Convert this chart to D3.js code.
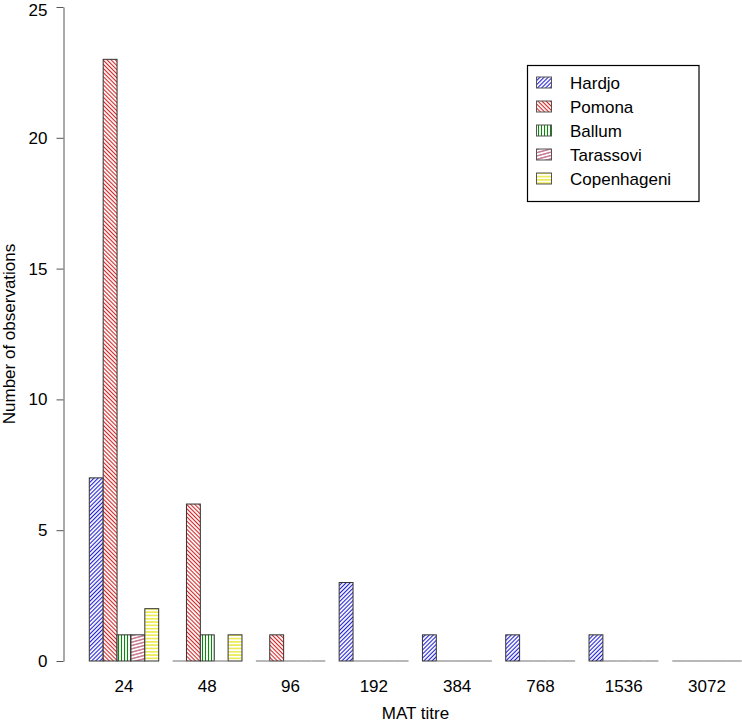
<!DOCTYPE html>
<html><head><meta charset="utf-8">
<script src="https://cdn.jsdelivr.net/npm/d3@7"></script>
<style>body{margin:0;background:#fff}svg{display:block;font-family:"Liberation Sans",Arial,sans-serif}</style>
</head><body>
<svg id="c" width="742" height="723"></svg>
<script>
const categories = ["24","48","96","192","384","768","1536","3072"];
const seriesNames = ["Hardjo","Pomona","Ballum","Tarassovi","Copenhageni"];
const hardjo      = [7,0,0,3,1,1,1,0];
const pomona      = [23,6,1,0,0,0,0,0];
const ballum      = [1,1,0,0,0,0,0,0];
const tarassovi   = [1,0,0,0,0,0,0,0];
const copenhageni = [2,1,0,0,0,0,0,0];
const yTicks = [0,5,10,15,20,25];

const seriesValues = [hardjo,pomona,ballum,tarassovi,copenhageni];
const colors = ["#1e1ed2","#d22424","#0f850f","#b04868","#e2e200"];
const angles = [45,-45,0,75,90];
const spacing = [2.9,2.9,3,3.2,3.3];

const svg = d3.select("#c");
const nS = seriesNames.length;
const x = d3.scaleLinear().domain([-0.88, 49.88]).range([63.2, 767.8]);
const y = d3.scaleLinear().domain([0,25]).range([661,7]);

const defs = svg.append("defs");
seriesNames.forEach((s,i)=>{
  const p = defs.append("pattern").attr("id","pat"+i)
    .attr("patternUnits","userSpaceOnUse")
    .attr("width",spacing[i]).attr("height",spacing[i])
    .attr("patternTransform","rotate("+angles[i]+")");
  p.append("rect").attr("width",spacing[i]).attr("height",spacing[i]).attr("fill","#fff");
  p.append("line").attr("x1",spacing[i]/2).attr("x2",spacing[i]/2)
    .attr("y1",-1).attr("y2",spacing[i]+1)
    .attr("stroke",colors[i]).attr("stroke-width",1.1);
});

const bars = [];
categories.forEach((c,g)=>{
  seriesValues.forEach((vals,s)=>{
    const u0 = 1 + g*(nS+1) + s;
    bars.push({g,s,v:vals[g],u0,u1:u0+1});
  });
});

const gBars = svg.append("g");
bars.filter(d=>d.v>0).forEach(d=>{
  gBars.append("rect")
    .attr("x",x(d.u0)).attr("width",x(d.u1)-x(d.u0))
    .attr("y",y(d.v)).attr("height",y(0)-y(d.v))
    .attr("fill","url(#pat"+d.s+")")
    .attr("stroke","#333").attr("stroke-width",1);
});
bars.filter(d=>d.v===0).forEach(d=>{
  gBars.append("line")
    .attr("x1",x(d.u0)).attr("x2",x(d.u1))
    .attr("y1",y(0)).attr("y2",y(0))
    .attr("stroke","#888").attr("stroke-width",1.2);
});

const ya = svg.append("g").attr("transform","translate(63.5,0)")
  .call(d3.axisLeft(y).tickValues(yTicks).tickSize(7).tickSizeOuter(0).tickPadding(9).tickFormat(d3.format("d")));
ya.select(".domain").attr("stroke","#555");
ya.selectAll(".tick line").attr("stroke","#555");
ya.selectAll("text").attr("font-size",17).attr("fill","#000").attr("font-family","Liberation Sans, Arial, sans-serif");
ya.selectAll(".tick").filter(d=>d===25).select("text").attr("dy","0.5em");

categories.forEach((c,g)=>{
  const uc = 1 + g*(nS+1) + nS/2;
  svg.append("text").attr("x",x(uc)).attr("y",692)
    .attr("text-anchor","middle").attr("font-size",17).text(c);
});

svg.append("text").attr("x",x(24.5)).attr("y",719)
  .attr("text-anchor","middle").attr("font-size",17).text("MAT titre");
svg.append("text").attr("transform","translate(15,"+y(12.5)+") rotate(-90)")
  .attr("text-anchor","middle").attr("font-size",17).text("Number of observations");

const lg = svg.append("g");
lg.append("rect").attr("x",527.5).attr("y",65.5).attr("width",171.5).attr("height",136)
  .attr("fill","#fff").attr("stroke","#000").attr("stroke-width",1.2);
seriesNames.forEach((s,i)=>{
  const cy = 82.5 + i*24;
  lg.append("rect").attr("x",536.5).attr("y",cy-5.5).attr("width",15).attr("height",11)
    .attr("fill","url(#pat"+i+")").attr("stroke","#555").attr("stroke-width",1);
  lg.append("text").attr("x",570).attr("y",cy+6).attr("font-size",17).text(s);
});
</script>
</body></html>
